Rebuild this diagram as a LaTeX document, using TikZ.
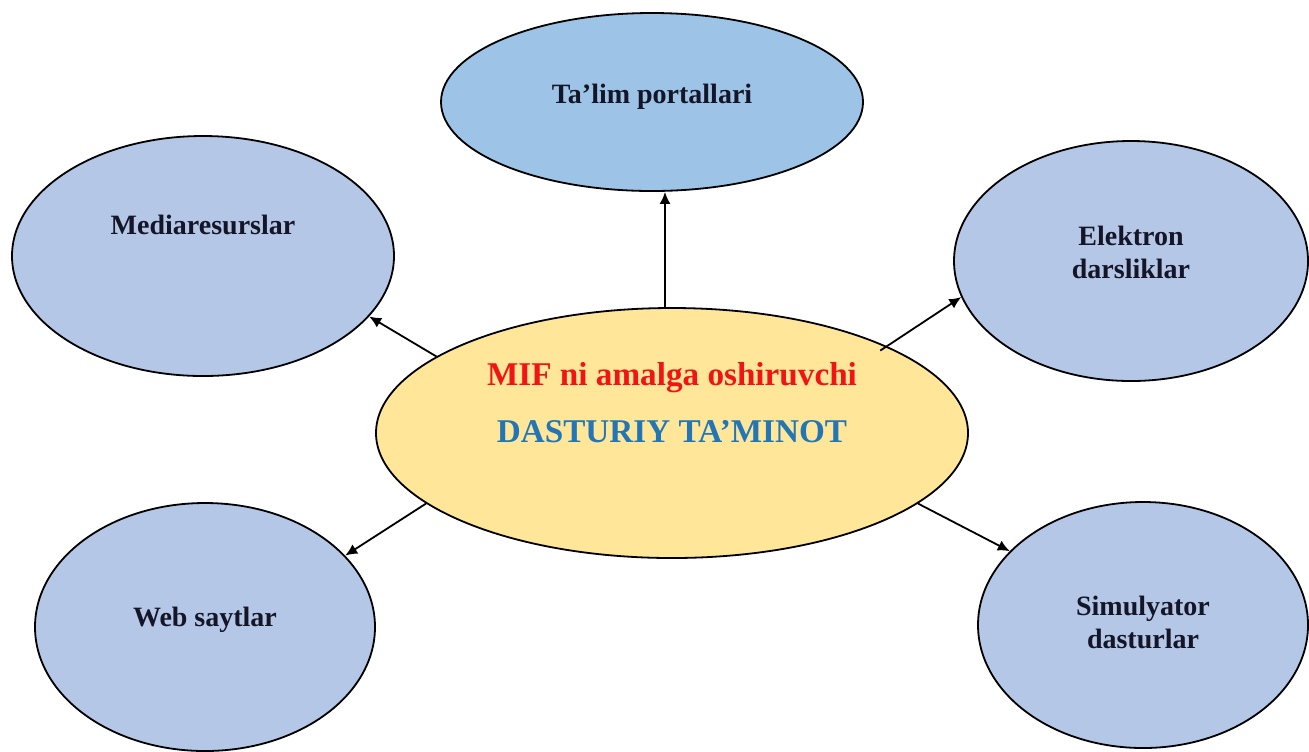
\documentclass[tikz,border=0pt]{standalone}
\usepackage{fontspec}
\setmainfont{Liberation Serif}
\usetikzlibrary{arrows.meta,shapes.geometric}
\definecolor{hubfill}{RGB}{255,230,153}
\definecolor{portalfill}{RGB}{157,195,230}
\definecolor{leaffill}{RGB}{180,199,231}
\definecolor{hubred}{RGB}{240,20,20}
\definecolor{hubblue}{RGB}{34,118,182}
\definecolor{leaftext}{RGB}{20,22,40}
\begin{document}
\begin{tikzpicture}[
  x=0.5pt, y=-0.5pt,
  bubble/.style={ellipse, draw=black, line width=0.9pt, fill=leaffill, inner sep=0pt},
  lbl/.style={align=center, font=\fontsize{14}{16.5}\selectfont\bfseries, text=leaftext},
  arr/.style={-{Latex[length=6pt,width=5.5pt]}, line width=0.9pt}
]
  \useasboundingbox (0,0) rectangle (1309,751);
  \node[bubble, fill=portalfill, minimum width=211pt, minimum height=89pt] (portal) at (652,102) {};
  \node[lbl] (portaltxt) at (652,97) {Ta’lim portallari};
  \node[bubble, minimum width=191pt, minimum height=120pt] (media) at (203,256) {};
  \node[lbl] (mediatxt) at (203,225) {Mediaresurslar};
  \node[bubble, minimum width=177pt, minimum height=120pt] (elektron) at (1131,261) {};
  \node[lbl] (elektrontxt) at (1131,252) {Elektron\\darsliklar};
  \node[bubble, minimum width=170pt, minimum height=124pt] (web) at (205,627) {};
  \node[lbl] (webtxt) at (205,620) {Web saytlar};
  \node[bubble, minimum width=165pt, minimum height=123pt] (simul) at (1143,625) {};
  \node[lbl] (simultxt) at (1143,622) {Simulyator\\dasturlar};
  \node[bubble, fill=hubfill, minimum width=296pt, minimum height=125pt] (hub) at (672,433) {};
  \node[align=center, font=\fontsize{16.6}{28.5}\selectfont\bfseries] (hubtxt) at (672,403)
    {\textcolor{hubred}{MIF ni amalga oshiruvchi}\\\textcolor{hubblue}{DASTURIY TA’MINOT}};
  \draw[arr] ([xshift=-3.5pt]hub.north) -- ([xshift=6.5pt]portal.south);
  \draw[arr] (hub.162) -- (media.-20);
  \draw[arr, shorten <=-4pt] (hub.22) -- (elektron.-168);
  \draw[arr] (hub.196) -- (web.27);
  \draw[arr] (hub.-16) -- (simul.151);
\end{tikzpicture}
\end{document}
